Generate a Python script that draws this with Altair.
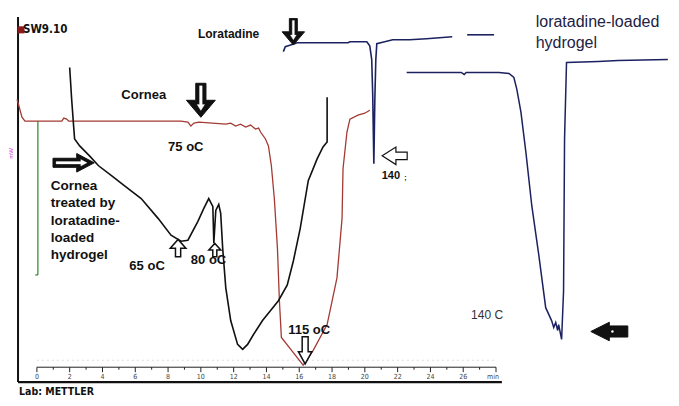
import altair as alt
import pandas as pd

# ---------------- data (time in min, heat flow in arbitrary units) ----------------
cornea_t = [-1.21, -0.91, -0.73, 1.52, 1.64, 1.82, 1.94, 8.79, 9.21, 9.39, 9.58, 9.88,
            11.52, 11.82, 12.12, 12.42, 12.73, 13.03, 13.33, 13.52, 13.64, 13.94, 14.12,
            14.30, 14.48, 14.67, 14.79, 14.91, 15.58, 16.24, 16.85, 17.70, 18.30, 18.61,
            18.67, 18.91, 19.09, 19.58, 20.00, 20.30]
cornea_v = [298, 280, 276, 276, 279, 278, 276, 276, 275, 271, 274, 275,
            273, 274, 271, 273, 270, 272, 268, 269, 265, 258, 251,
            231, 198, 148, 95, 58, 44, 30, 45, 71, 118, 178,
            228, 265, 278, 282, 284, 287]

treated_t = [2.00, 2.12, 2.24, 2.30, 2.61, 3.21, 3.76, 4.55, 5.33, 6.36, 7.39, 8.18, 8.79,
             9.21, 9.82, 10.18, 10.48, 10.73, 10.79, 10.91, 11.09, 11.21, 11.33, 11.52,
             11.82, 12.24, 12.55, 12.85, 13.21, 13.76, 14.24, 14.73, 15.27, 15.64, 16.06,
             16.55, 17.09, 17.45, 17.70, 17.70]
treated_v = [330, 298, 271, 258, 251, 241, 231, 221, 211, 198, 178, 161, 155,
             156, 175, 188, 198, 190, 153, 186, 192, 183, 148, 108,
             75, 51, 46, 51, 61, 75, 85, 95, 111, 135, 168,
             216, 238, 250, 255, 300]

lorat_t = [15.03, 15.15, 15.33, 15.88, 18.97, 19.09, 20.12, 20.30, 20.42, 20.48, 20.55,
           20.61, 20.67, 20.73, 21.21, 21.70, 22.73, 23.76, 24.55, 25.33]
lorat_v = [346, 351, 352, 355, 355, 356, 356, 352, 338, 303, 233,
           298, 338, 354, 356, 358, 358, 359, 360, 361]
lorat2_t = [26.24, 27.88]
lorat2_v = [363, 363]

gel_t = [22.55, 25.88, 26.06, 26.18, 28.18, 28.79, 29.09, 29.27, 29.52, 29.82, 30.18,
         30.61, 31.03, 31.39, 31.52, 31.64, 31.76, 31.82, 32.00, 32.12, 32.18, 32.30,
         34.24, 35.45, 38.48]
gel_v = [325, 325, 323, 325, 325, 324, 320, 308, 285, 245, 191,
         141, 88, 75, 68, 73, 65, 71, 56, 105, 258, 335,
         336, 337, 338]

tick_min = list(range(0, 29))
tick_labels = [str(v) for v in range(0, 27, 2)]

X = alt.Scale(domain=[-1.64, 38.55], nice=False, zero=False)
Y = alt.Scale(domain=[0, 390], nice=False, zero=False)
FONT = "Liberation Sans"
NARROW = "DejaVu Sans Condensed"

def enc(**kw):
    return dict(x=alt.X("t:Q", scale=X, axis=None), y=alt.Y("v:Q", scale=Y, axis=None), **kw)

def curve(ts, vs, color, width):
    df = pd.DataFrame({"t": ts, "v": vs, "i": list(range(len(ts)))})
    return alt.Chart(df).mark_line(color=color, strokeWidth=width).encode(**enc(order="i:Q"))

def seg(t1, v1, t2, v2, color, width, dash=None):
    df = pd.DataFrame({"t": [t1], "v": [v1], "t2": [t2], "v2": [v2]})
    kw = dict(color=color, strokeWidth=width)
    if dash:
        kw["strokeDash"] = dash
    return alt.Chart(df).mark_rule(**kw).encode(
        **enc(x2="t2:Q", y2="v2:Q"))

def texts(items, size, bold=True, color="#111111", font=FONT, angle=0):
    df = pd.DataFrame({"txt": [a[0] for a in items], "t": [a[1] for a in items],
                       "v": [a[2] for a in items]})
    kw = dict(align="left", baseline="middle", fontSize=size, font=font, color=color,
              fontWeight="bold" if bold else "normal")
    if angle:
        kw["angle"] = angle
    return alt.Chart(df).mark_text(**kw).encode(**enc(text="txt:N"))

def arrow(t, v, path, size, fill, stroke, sw):
    df = pd.DataFrame({"t": [t], "v": [v]})
    return alt.Chart(df).mark_point(shape=path, size=size, filled=True, fill=fill,
                                    stroke=stroke, strokeWidth=sw, opacity=1).encode(**enc())

DOWN = "M-0.3,-1L0.3,-1L0.3,0L0.85,0L0,1L-0.85,0L-0.3,0Z"
DOWN_IN = "M-0.08,-0.85L0.08,-0.85L0.08,0.25L0.22,0.25L0,0.6L-0.22,0.25L-0.08,0.25Z"
RIGHT = "M-1,-0.22L0.15,-0.22L0.15,-0.45L1,0L0.15,0.45L0.15,0.22L-1,0.22Z"
RIGHT_IN = "M-0.85,-0.06L0.35,-0.06L0.35,-0.16L0.65,0L0.35,0.16L0.35,0.06L-0.85,0.06Z"
UP = "M-0.3,1L0.3,1L0.3,0L0.9,0L0,-1L-0.9,0L-0.3,0Z"
DOWN_THIN = "M-0.22,-1L0.22,-1L0.22,0.1L0.5,0.1L0,1L-0.5,0.1L-0.22,0.1Z"
LEFT_OPEN = "M1,-0.3L0.1,-0.3L0.1,-0.7L-1,0L0.1,0.7L0.1,0.3L1,0.3Z"
LEFT_FILL = "M1,-0.3L0,-0.3L0,-0.5L-1,0L0,0.5L0,0.3L1,0.3Z"

layers = []
# frame / axis
layers.append(seg(-1.15, 13, -1.15, 381, "#111111", 2))
layers.append(seg(-1.15, 13, 28.36, 13, "#111111", 2.2))
layers.append(seg(0, 35, 28.0, 35, "#dddddd", 1, [2, 3]))
layers.append(seg(0, 28, 28.0, 28, "#222222", 1))
tdf = pd.DataFrame({"t": tick_min, "v": [28] * len(tick_min),
                    "v2": [23 if m % 2 == 0 else 25.5 for m in tick_min]})
layers.append(alt.Chart(tdf).mark_rule(color="#222222", strokeWidth=1).encode(**enc(y2="v2:Q")))
ldf = pd.DataFrame({"txt": tick_labels, "t": list(range(0, 27, 2)), "v": [18] * len(tick_labels)})
layers.append(alt.Chart(ldf).mark_text(fontSize=7, font=NARROW, color="#444444",
                                       baseline="middle", align="center").encode(**enc(text="txt:N")))
layers.append(texts([("min", 27.45, 18)], 7, bold=False, color="#444444", font=NARROW))

# scale bar (green) and mW tag
layers.append(seg(0.06, 276, 0.06, 121, "#3c8c3c", 1.3))
layers.append(seg(-0.1, 121, 0.06, 121, "#3c8c3c", 1.3))
layers.append(texts([("mW", -1.55, 238)], 6, bold=False, color="#d040d0", angle=270))

# curves
layers.append(curve(cornea_t, cornea_v, "#a33a33", 1.3))
layers.append(curve(treated_t, treated_v, "#111111", 1.6))
layers.append(curve(lorat_t, lorat_v, "#1c2260", 1.6))
layers.append(curve(lorat2_t, lorat2_v, "#1c2260", 1.6))
layers.append(curve(gel_t, gel_v, "#1c2260", 1.5))

# arrows
layers.append(arrow(15.64, 366, DOWN, 700, "#111111", "#111111", 1))
layers.append(arrow(15.64, 366, DOWN_IN, 700, "#ffffff", "#ffffff", 0.3))
layers.append(arrow(10.0, 297, DOWN, 1156, "#111111", "#111111", 1))
layers.append(arrow(10.0, 297, DOWN_IN, 1156, "#ffffff", "#ffffff", 0.3))
layers.append(arrow(2.24, 234, RIGHT, 1700, "#111111", "#111111", 1))
layers.append(arrow(2.24, 234, RIGHT_IN, 1700, "#ffffff", "#ffffff", 0.3))
layers.append(arrow(8.61, 148, UP, 300, "#ffffff", "#111111", 1.5))
layers.append(arrow(10.85, 146, UP, 180, "#ffffff", "#111111", 1.5))
layers.append(arrow(16.36, 45, DOWN_THIN, 729, "#ffffff", "#111111", 1.5))
layers.append(arrow(21.82, 241, LEFT_OPEN, 625, "#ffffff", "#111111", 1.2))
layers.append(arrow(34.91, 64, LEFT_FILL, 1369, "#111111", "#111111", 1))
layers.append(arrow(35.1, 64, "circle", 6, "#ffffff", "#ffffff", 0))

# header / footer
layers.append(arrow(-0.97, 368, "square", 50, "#8b1a1a", "#8b1a1a", 0))
layers.append(texts([("SW9.10", -0.85, 368)], 11.5, font=NARROW))
layers.append(texts([("Lab: METTLER", -1.09, 3)], 10.5, font=NARROW))

# annotations
layers.append(texts([("Loratadine", 9.82, 364)], 12))
layers.append(texts([("Cornea", 5.15, 302), ("75 oC", 8.0, 250), ("65 oC", 5.64, 130),
                     ("80 oC", 9.39, 136), ("115 oC", 15.33, 66)], 13))
layers.append(texts([("Cornea", 0.85, 211), ("treated by", 0.85, 193), ("loratadine-", 0.85, 175),
                     ("loaded", 0.85, 158), ("hydrogel", 0.85, 141)], 13.5))
layers.append(texts([("140", 21.03, 221)], 11))
layers.append(texts([(";", 22.4, 219)], 7))
layers.append(texts([("loratadine-loaded", 30.42, 376), ("hydrogel", 30.42, 355)], 16, bold=False,
                    color="#222244"))
layers.append(texts([("140 C", 26.48, 81)], 12, bold=False, color="#333333"))

chart = alt.layer(*layers).properties(
    width=663, height=390,
    autosize=alt.AutoSizeParams(type="fit", contains="padding"),
    padding=0, background="white"
).configure_view(stroke=None)

chart.save("out.html", embed_options={"renderer": "svg", "actions": False})
